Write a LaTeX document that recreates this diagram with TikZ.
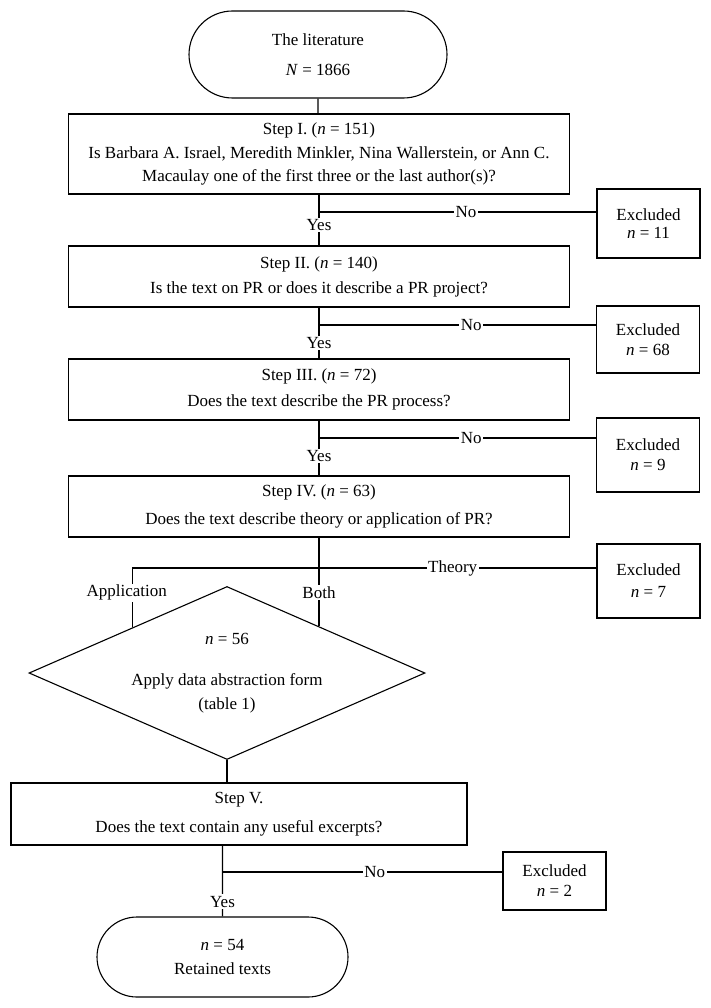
\documentclass[tikz,border=0pt]{standalone}
\usepackage{fontspec}
\setmainfont{Liberation Serif}
\usetikzlibrary{positioning}
\usetikzlibrary{shapes.geometric,shapes.misc}
\usetikzlibrary{calc}

\begin{document}
\begin{tikzpicture}[x=1pt, y=-1pt, line width=1.1pt,
    every node/.style={font=\fontsize{17}{24}\selectfont},
    stepbox/.style={draw, rectangle, align=center, inner sep=0pt, minimum width=501pt},
    exbox/.style={draw, rectangle, align=center, inner sep=0pt, minimum width=103pt},
    term/.style={draw, rounded rectangle, align=center, inner sep=0pt},
    lbl/.style={fill=white, inner sep=1.5pt}]

\useasboundingbox (0,0) rectangle (711,1008);

% Start
\node[term, minimum width=258pt, minimum height=87pt] (lit) at (318,54.5)
    {The literature\\[6pt]\textit{N} = 1866};

% Screening steps
\node[stepbox, minimum height=80pt] (s1) at (319,154)
    {Step I. (\textit{n} = 151)\\Is Barbara A. Israel, Meredith Minkler, Nina Wallerstein, or Ann C.\\[-1pt]Macaulay one of the first three or the last author(s)?};
\node[stepbox, minimum height=61pt] (s2) at (319,276.5)
    {Step II. (\textit{n} = 140)\\[1pt]Is the text on PR or does it describe a PR project?};
\node[stepbox, minimum height=61pt] (s3) at (319,389.5)
    {Step III. (\textit{n} = 72)\\[2pt]Does the text describe the PR process?};
\node[stepbox, minimum height=61pt] (s4) at (319,506.5)
    {Step IV. (\textit{n} = 63)\\[4pt]Does the text describe theory or application of PR?};

% Excluded texts
\node[exbox, minimum height=69pt] (ex1) at (648.5,223.5) {Excluded\\[-6pt]\textit{n} = 11};
\node[exbox, minimum height=67pt] (ex2) at (648,339.5) {Excluded\\[-4pt]\textit{n} = 68};
\node[exbox, minimum height=74pt] (ex3) at (648,455) {Excluded\\[-4pt]\textit{n} = 9};
\node[exbox, minimum height=74pt] (ex4) at (648.5,581) {Excluded\\[-2pt]\textit{n} = 7};

% Abstraction
\node[draw, diamond, aspect=2.28, inner sep=0pt, minimum width=396pt, minimum height=173pt, align=center] (dia) at (227,673)
    {\textit{n} = 56\\[17pt]Apply data abstraction form\\(table 1)};

\node[draw, rectangle, align=center, inner sep=0pt, minimum width=456pt, minimum height=62pt] (s5) at (239,814)
    {Step V.\\[5pt]Does the text contain any useful excerpts?};
\node[exbox, minimum height=58pt] (ex5) at (554.5,881) {Excluded\\[-4pt]\textit{n} = 2};

% End
\node[term, minimum width=251pt, minimum height=80pt] (fin) at (222.5,957)
    {\textit{n} = 54\\[0pt]Retained texts};

% Branch points
\coordinate (j1) at (319,212);
\coordinate (j2) at (319,325);
\coordinate (j3) at (319,438);
\coordinate (jt) at (133,568);
\coordinate (j5) at (222,872);
\coordinate (appin) at ($(dia.north)!0.475!(dia.west)$);
\coordinate (bothin) at ($(dia.north)!0.4646!(dia.east)$);

% Connectors
\draw (lit) -- (lit |- s1.north);
\draw (s1) -- node[lbl, pos=0.6]{Yes} (s2);
\draw (j1) -- node[lbl, pos=0.53]{No} (j1 -| ex1.west);
\draw (s2) -- node[lbl, pos=0.69]{Yes} (s3);
\draw (j2) -- node[lbl, pos=0.55]{No} (j2 -| ex2.west);
\draw (s3) -- node[lbl, pos=0.64]{Yes} (s4);
\draw (j3) -- node[lbl, pos=0.55]{No} (j3 -| ex3.west);

\draw (appin) -- node[lbl, pos=0.58, xshift=-6pt]{Application} (appin |- jt)
    -- node[lbl, pos=0.69]{Theory} (jt -| ex4.west);
\draw (s4) -- node[lbl, pos=0.62]{Both} (s4 |- bothin);

\draw (dia) -- (dia |- s5.north);
\draw (s5.south -| fin) -- node[lbl, pos=0.79]{Yes} (fin);
\draw (j5) -- node[lbl, pos=0.545]{No} (j5 -| ex5.west);

\end{tikzpicture}
\end{document}
